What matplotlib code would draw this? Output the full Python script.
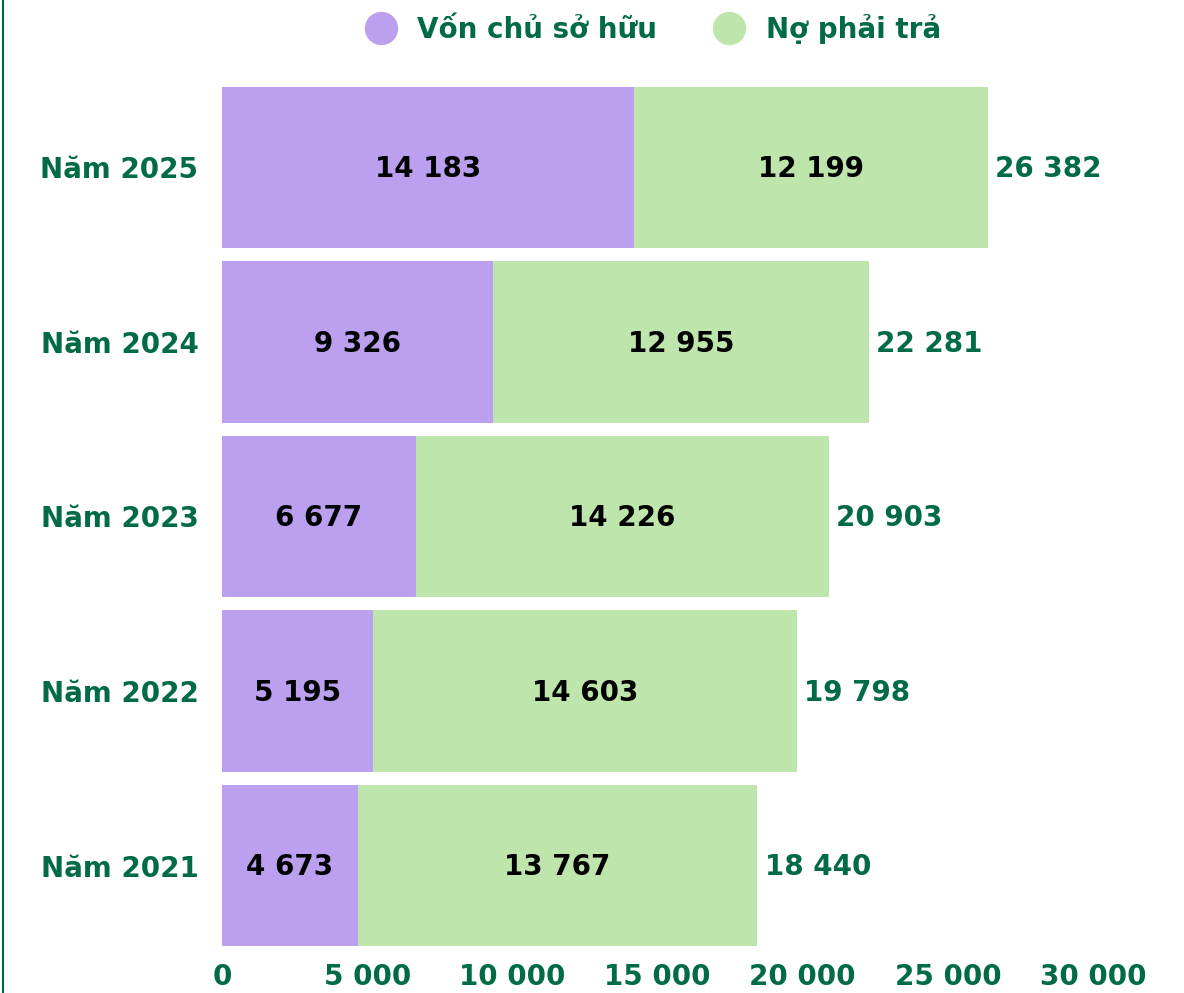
import matplotlib

matplotlib.use("Agg")
import matplotlib.pyplot as plt
from matplotlib.lines import Line2D
from matplotlib.ticker import FuncFormatter

YEARS = ["Năm 2021", "Năm 2022", "Năm 2023", "Năm 2024", "Năm 2025"]
EQUITY = [4673, 5195, 6677, 9326, 14183]
LIABILITIES = [13767, 14603, 14226, 12955, 12199]
SERIES_LABELS = ["Vốn chủ sở hữu", "Nợ phải trả"]
X_TICKS = [0, 5000, 10000, 15000, 20000, 25000, 30000]

PURPLE = "#bca0f0"
GREEN = "#bee6ac"
DARK_GREEN = "#006b45"
FS = 20

plt.rcParams["font.family"] = ["DejaVu Sans"]
plt.rcParams["font.weight"] = "bold"


def fmt(v: float) -> str:
    return f"{int(round(v)):,}".replace(",", " ")


fig = plt.figure(figsize=(11.84, 9.93), dpi=100)
ax = fig.add_axes([222 / 1184, 1 - 953 / 993, (1093 - 222) / 1184, (953 - 80) / 993])

y = range(len(YEARS))
h = 0.925
ax.barh(y, EQUITY, height=h, color=PURPLE, label=SERIES_LABELS[0])
ax.barh(y, LIABILITIES, left=EQUITY, height=h, color=GREEN, label=SERIES_LABELS[1])

# value labels inside the segments, total to the right
for i, (e, l) in enumerate(zip(EQUITY, LIABILITIES)):
    ax.text(e / 2, i - 0.01, fmt(e), ha="center", va="center", fontsize=FS, fontweight="bold", color="black")
    ax.text(e + l / 2, i - 0.01, fmt(l), ha="center", va="center", fontsize=FS, fontweight="bold", color="black")
    ax.text(e + l + 250, i - 0.01, fmt(e + l), ha="left", va="center", fontsize=FS, fontweight="bold", color=DARK_GREEN)

ax.set_xlim(0, 30000)
ax.set_ylim(-0.5, len(YEARS) - 0.5)
ax.set_yticks(list(y))
ax.set_yticklabels(YEARS, fontsize=FS, fontweight="bold", color=DARK_GREEN)
ax.set_xticks(X_TICKS)
ax.xaxis.set_major_formatter(FuncFormatter(lambda v, _: fmt(v)))
for lab in ax.get_xticklabels():
    lab.set_fontsize(FS)
    lab.set_fontweight("bold")
    lab.set_color(DARK_GREEN)
ax.tick_params(axis="both", length=0)
ax.tick_params(axis="y", pad=17)
ax.tick_params(axis="x", pad=7)
for s in ax.spines.values():
    s.set_visible(False)

handles = [
    Line2D([], [], marker="o", linestyle="none", markersize=23, markerfacecolor=PURPLE, markeredgecolor=PURPLE),
    Line2D([], [], marker="o", linestyle="none", markersize=23, markerfacecolor=GREEN, markeredgecolor=GREEN),
]
leg = fig.legend(handles, SERIES_LABELS, loc="center", bbox_to_anchor=(647 / 1184, 1 - 29 / 993), ncol=2,
                 frameon=False, handletextpad=0.3, columnspacing=1.6, prop={"size": FS, "weight": "bold"})
for t in leg.get_texts():
    t.set_color(DARK_GREEN)

fig.add_artist(Line2D([3 / 1184, 3 / 1184], [0, 1], color=DARK_GREEN, linewidth=1.5, transform=fig.transFigure))

fig.savefig("out.png", dpi=100)
